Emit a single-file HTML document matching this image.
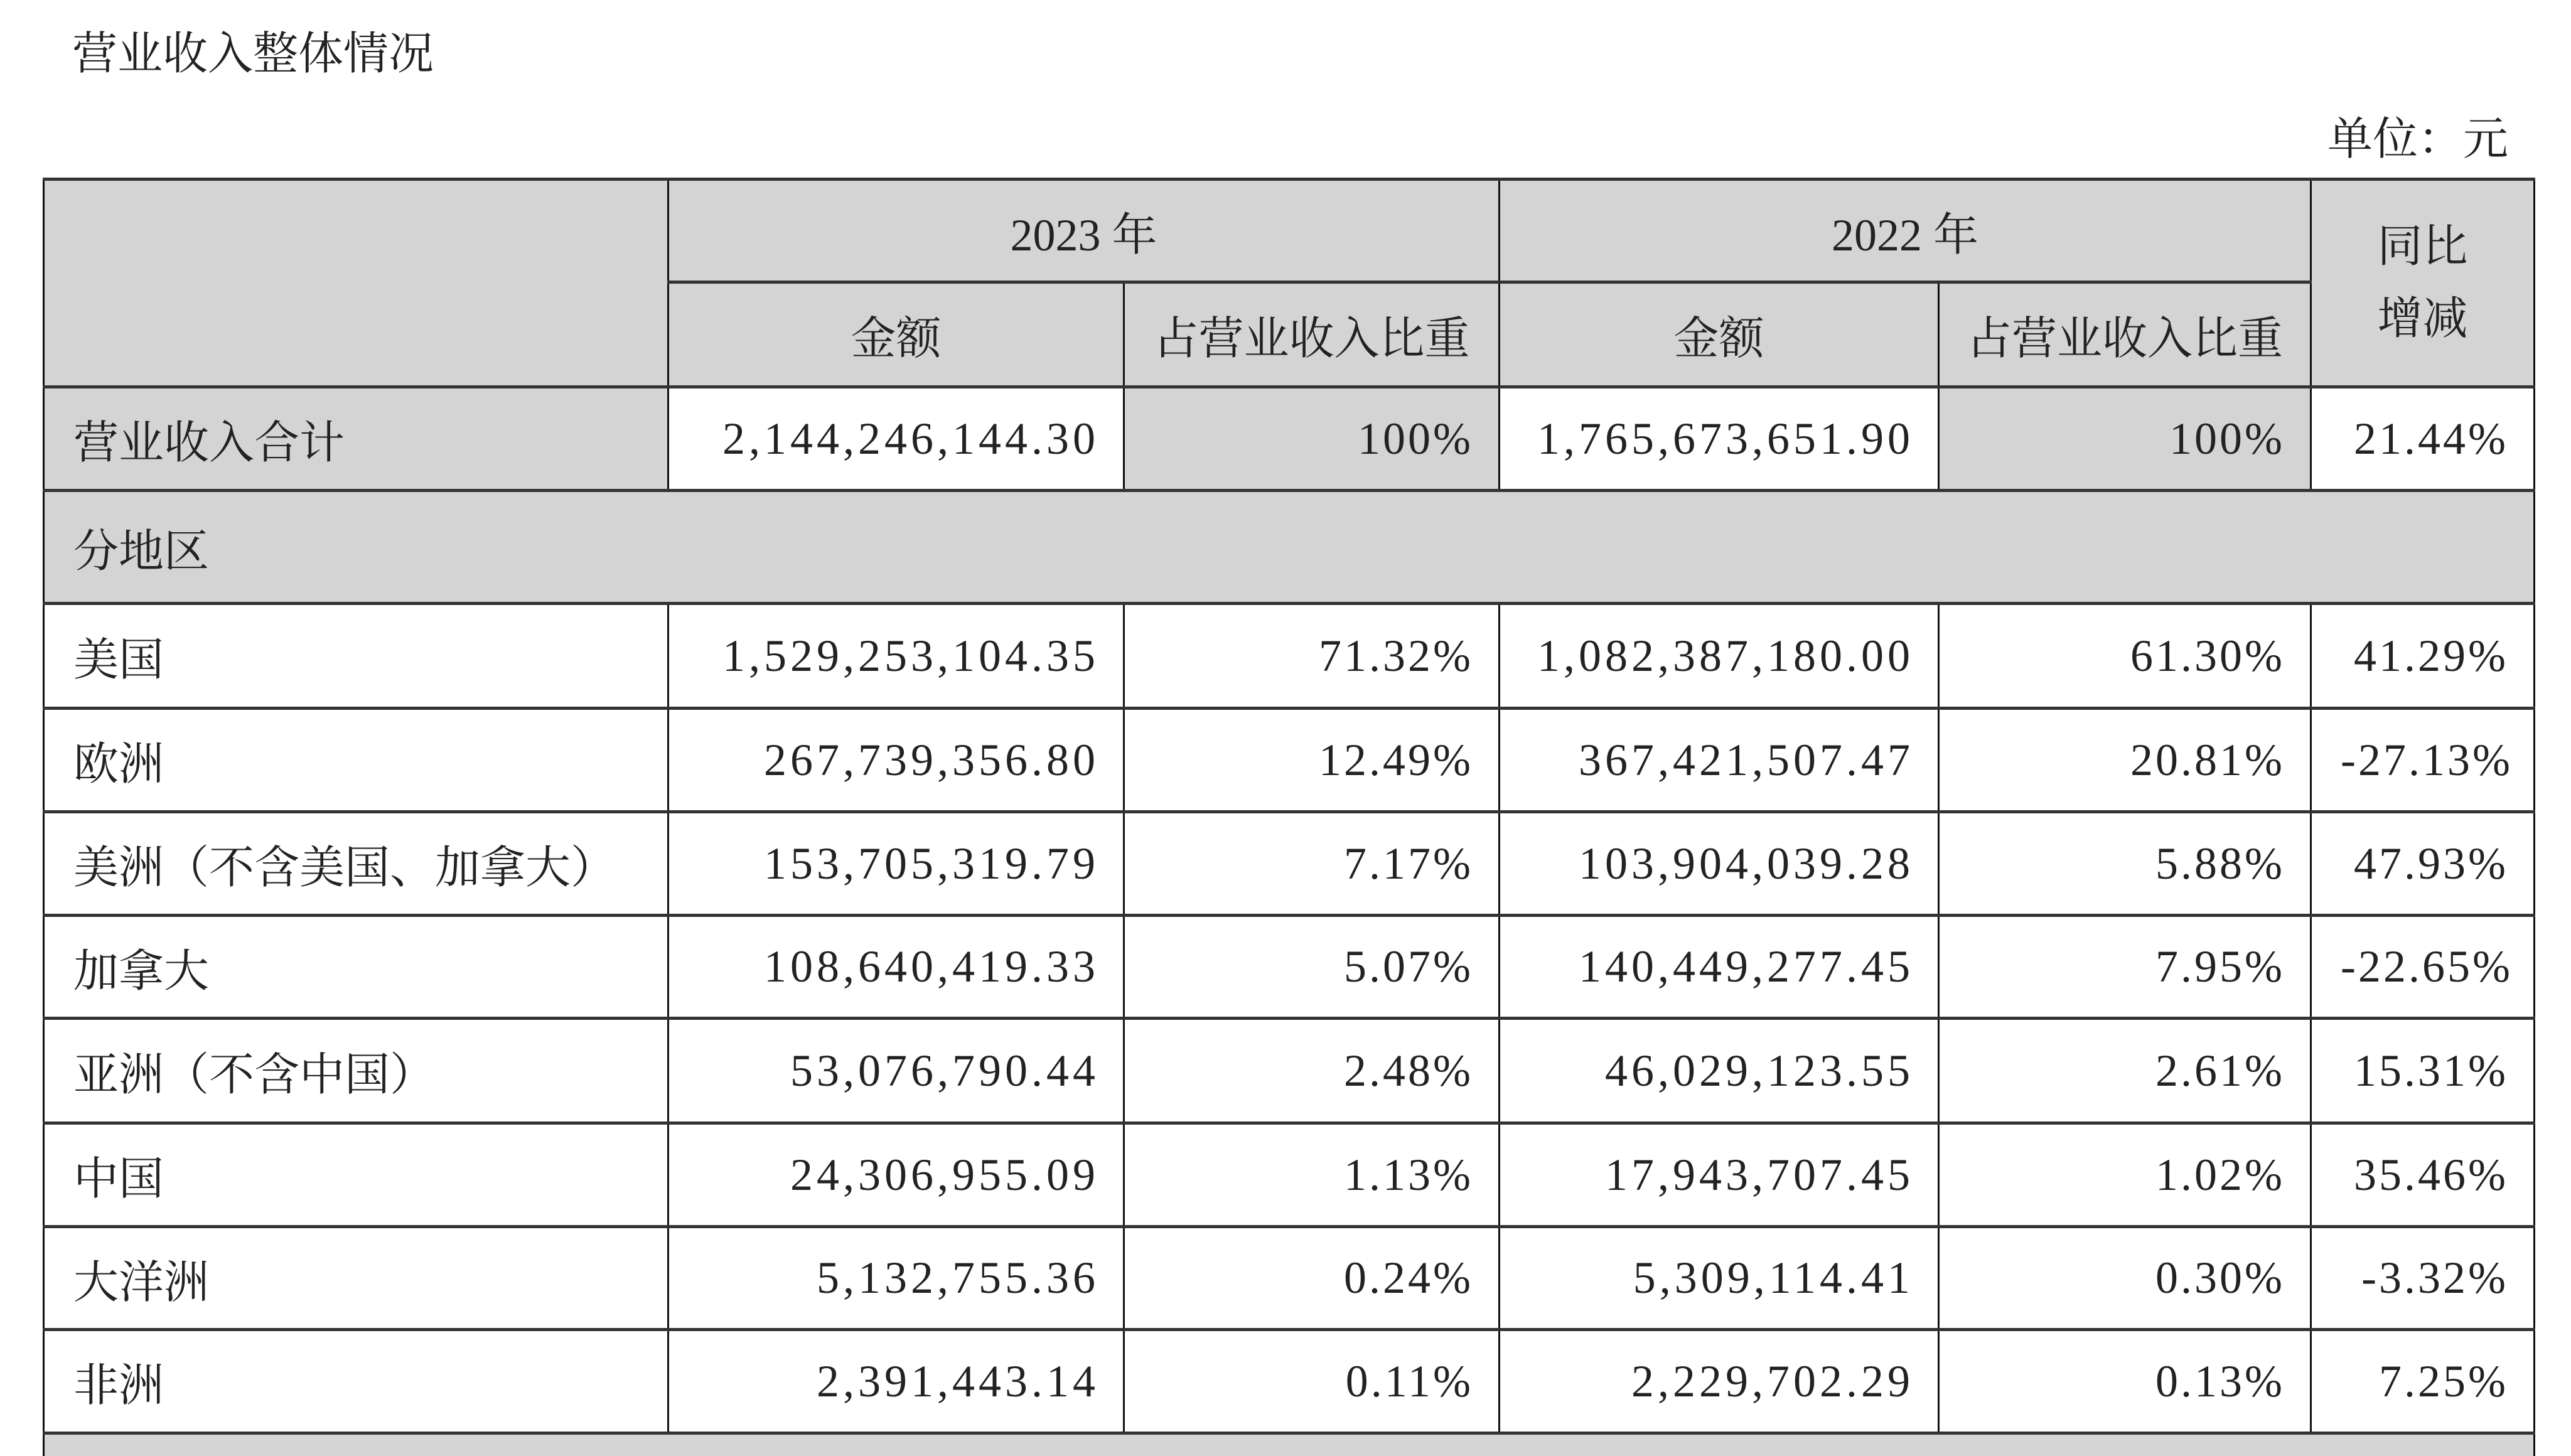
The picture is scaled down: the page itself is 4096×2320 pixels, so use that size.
<!DOCTYPE html>
<html><head><meta charset="utf-8"><style>
html,body{margin:0;padding:0;background:#fff;width:4096px;height:2320px;overflow:hidden;}
body{position:relative;font-family:"Liberation Serif","Noto Serif CJK SC",serif;color:#222;}
.t{position:absolute;font-size:72px;line-height:1;white-space:nowrap;}
table{position:absolute;left:68px;top:283px;width:3968px;border-collapse:collapse;table-layout:fixed;}
td{border-left:3px solid #111;border-right:3px solid #111;border-top:5px solid #333;border-bottom:5px solid #333;font-size:72px;padding:0 44px 0 46px;white-space:nowrap;overflow:hidden;}
.g{background:#d4d4d4;}
.c{text-align:center;padding:0;}
.r{text-align:right;letter-spacing:6px;padding-right:38px;}
.p{text-align:right;letter-spacing:4px;padding-right:40px;}
</style></head><body>
<div class="t" style="left:115px;top:50px;">营业收入整体情况</div>
<div class="t" style="right:100px;top:186px;">单位：元</div>
<table>
<colgroup><col style="width:995px"><col style="width:726px"><col style="width:598px"><col style="width:700px"><col style="width:593px"><col style="width:356px"></colgroup>
<tr style="height:164px"><td class="g" rowspan="2"></td><td class="g c" colspan="2">2023 年</td><td class="g c" colspan="2">2022 年</td><td class="g c" rowspan="2" style="line-height:115px">同比<br>增减</td></tr>
<tr style="height:167px"><td class="g c">金额</td><td class="g c">占营业收入比重</td><td class="g c">金额</td><td class="g c">占营业收入比重</td></tr>
<tr style="height:165px"><td class="g">营业收入合计</td><td class="r">2,144,246,144.30</td><td class="g p">100%</td><td class="r">1,765,673,651.90</td><td class="g p">100%</td><td class="p">21.44%</td></tr>
<tr style="height:180px"><td class="g" colspan="6">分地区</td></tr>
<tr style="height:167px"><td>美国</td><td class="r">1,529,253,104.35</td><td class="p">71.32%</td><td class="r">1,082,387,180.00</td><td class="p">61.30%</td><td class="p">41.29%</td></tr>
<tr style="height:165px"><td>欧洲</td><td class="r">267,739,356.80</td><td class="p">12.49%</td><td class="r">367,421,507.47</td><td class="p">20.81%</td><td class="p">-27.13%</td></tr>
<tr style="height:165px"><td>美洲（不含美国、加拿大）</td><td class="r">153,705,319.79</td><td class="p">7.17%</td><td class="r">103,904,039.28</td><td class="p">5.88%</td><td class="p">47.93%</td></tr>
<tr style="height:164px"><td>加拿大</td><td class="r">108,640,419.33</td><td class="p">5.07%</td><td class="r">140,449,277.45</td><td class="p">7.95%</td><td class="p">-22.65%</td></tr>
<tr style="height:167px"><td>亚洲（不含中国）</td><td class="r">53,076,790.44</td><td class="p">2.48%</td><td class="r">46,029,123.55</td><td class="p">2.61%</td><td class="p">15.31%</td></tr>
<tr style="height:165px"><td>中国</td><td class="r">24,306,955.09</td><td class="p">1.13%</td><td class="r">17,943,707.45</td><td class="p">1.02%</td><td class="p">35.46%</td></tr>
<tr style="height:164px"><td>大洋洲</td><td class="r">5,132,755.36</td><td class="p">0.24%</td><td class="r">5,309,114.41</td><td class="p">0.30%</td><td class="p">-3.32%</td></tr>
<tr style="height:165px"><td>非洲</td><td class="r">2,391,443.14</td><td class="p">0.11%</td><td class="r">2,229,702.29</td><td class="p">0.13%</td><td class="p">7.25%</td></tr>
<tr style="height:40px"><td class="g" colspan="6" style="border-bottom:none;font-size:1px;line-height:1px;"></td></tr>
</table>
</body></html>
